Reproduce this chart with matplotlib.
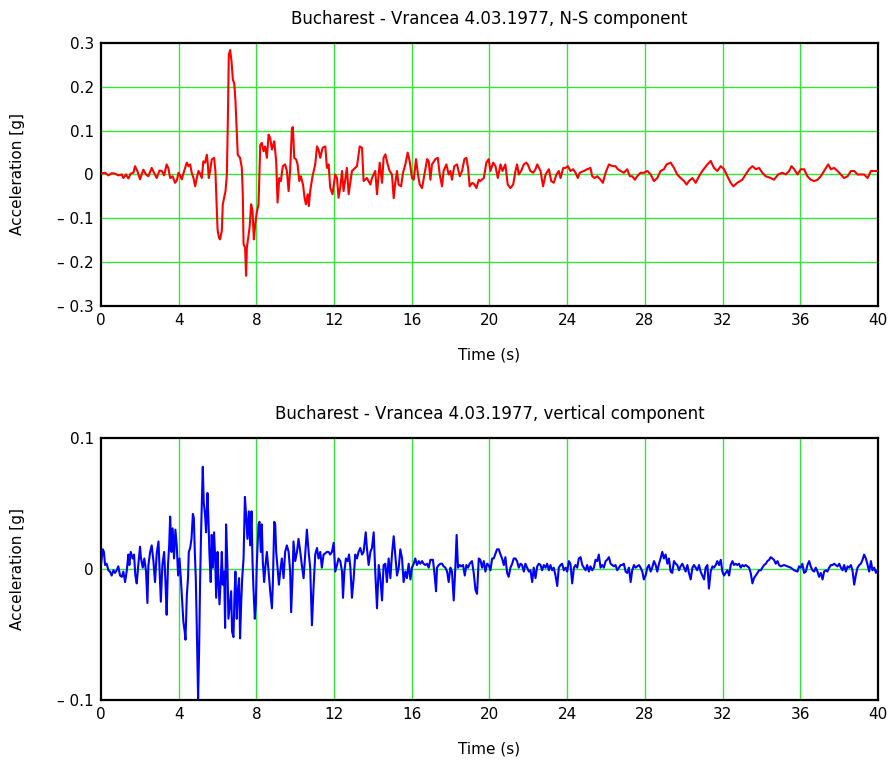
import matplotlib
matplotlib.use("Agg")
import matplotlib.pyplot as plt

ns_t = [0.00, 0.21, 0.38, 0.55, 0.72, 0.89, 1.07, 1.15, 1.29, 1.41, 1.53, 1.67, 1.75, 1.87, 2.01,
        2.18, 2.32, 2.44, 2.61, 2.73, 2.87, 3.01, 3.13, 3.25, 3.38, 3.47, 3.56, 3.69, 3.81, 3.90,
        3.99, 4.07, 4.16, 4.28, 4.42, 4.50, 4.59, 4.67, 4.76, 4.85, 4.93, 5.02, 5.10, 5.19, 5.27,
        5.36, 5.45, 5.50, 5.55, 5.62, 5.70, 5.82, 5.89, 5.93, 6.00, 6.07, 6.13, 6.22, 6.27, 6.34,
        6.41, 6.48, 6.53, 6.58, 6.65, 6.72, 6.79, 6.86, 6.92, 6.99, 7.04, 7.16, 7.25, 7.30, 7.34,
        7.42, 7.47, 7.51, 7.58, 7.65, 7.73, 7.80, 7.87, 7.94, 8.02, 8.11, 8.20, 8.28, 8.37, 8.45,
        8.54, 8.63, 8.71, 8.80, 8.92, 9.02, 9.09, 9.18, 9.26, 9.36, 9.48, 9.57, 9.66, 9.74, 9.83,
        9.88, 9.95, 10.05, 10.12, 10.21, 10.29, 10.40, 10.48, 10.55, 10.64, 10.70, 10.77, 10.89,
        11.03, 11.12, 11.20, 11.29, 11.41, 11.55, 11.63, 11.72, 11.80, 11.92, 12.06, 12.15, 12.23,
        12.32, 12.41, 12.49, 12.66, 12.75, 12.92, 13.09, 13.18, 13.32, 13.44, 13.52, 13.69, 13.87,
        13.95, 14.12, 14.21, 14.35, 14.47, 14.55, 14.64, 14.76, 14.86, 14.98, 15.07, 15.15, 15.24,
        15.32, 15.45, 15.55, 15.67, 15.79, 15.89, 16.01, 16.10, 16.22, 16.32, 16.41, 16.53, 16.65,
        16.79, 16.87, 16.96, 17.04, 17.22, 17.34, 17.44, 17.56, 17.64, 17.78, 17.90, 17.99, 18.07,
        18.19, 18.33, 18.47, 18.59, 18.71, 18.81, 18.90, 18.98, 19.11, 19.23, 19.33, 19.45, 19.53,
        19.71, 19.84, 19.96, 20.05, 20.19, 20.31, 20.43, 20.57, 20.67, 20.82, 20.94, 21.08, 21.22,
        21.34, 21.42, 21.51, 21.63, 21.77, 21.89, 21.97, 22.11, 22.25, 22.37, 22.46, 22.63, 22.76,
        22.89, 23.06, 23.18, 23.31, 23.45, 23.57, 23.66, 23.80, 23.92, 24.04, 24.17, 24.31, 24.43,
        24.55, 24.65, 24.86, 25.03, 25.20, 25.29, 25.41, 25.55, 25.72, 25.84, 25.98, 26.15, 26.32,
        26.49, 26.61, 26.75, 26.92, 27.09, 27.23, 27.35, 27.49, 27.61, 27.78, 27.95, 28.13, 28.30,
        28.47, 28.64, 28.81, 28.98, 29.12, 29.33, 29.50, 29.67, 29.84, 30.02, 30.15, 30.27, 30.45,
        30.62, 30.79, 30.96, 31.22, 31.39, 31.56, 31.73, 31.91, 32.08, 32.25, 32.42, 32.56, 32.76,
        33.02, 33.19, 33.37, 33.54, 33.71, 33.88, 34.05, 34.22, 34.48, 34.65, 34.86, 35.08, 35.26,
        35.43, 35.55, 35.69, 35.86, 36.03, 36.20, 36.37, 36.54, 36.72, 36.89, 37.06, 37.23, 37.44,
        37.58, 37.75, 37.92, 38.09, 38.26, 38.44, 38.61, 38.78, 38.95, 39.12, 39.29, 39.47, 39.64,
        39.81, 39.98]
ns_acc = [0.002, 0.004, -0.002, 0.003, 0.002, -0.002, 0.000, -0.008, 0.000, -0.009, 0.002, 0.004,
          0.019, 0.008, -0.011, 0.011, 0.000, -0.004, 0.015, 0.004, -0.008, 0.009, 0.008, -0.002,
          0.023, 0.014, -0.008, -0.004, -0.019, -0.014, 0.004, -0.002, -0.011, 0.008, 0.027, 0.019,
          0.023, 0.004, -0.008, -0.027, -0.008, 0.008, 0.002, -0.008, 0.030, 0.027, 0.045, 0.023,
          -0.008, 0.008, 0.034, 0.038, 0.008, -0.038, -0.125, -0.144, -0.148, -0.129, -0.068,
          -0.053, -0.038, 0.000, 0.121, 0.273, 0.284, 0.258, 0.216, 0.208, 0.170, 0.098, 0.045,
          0.038, 0.015, -0.045, -0.159, -0.167, -0.231, -0.167, -0.144, -0.121, -0.068, -0.083,
          -0.148, -0.114, -0.087, -0.068, 0.068, 0.072, 0.053, 0.064, 0.038, 0.091, 0.083, 0.057,
          0.076, 0.030, -0.064, -0.008, -0.015, 0.019, 0.023, 0.008, -0.038, 0.011, 0.106, 0.108,
          0.038, 0.034, 0.023, -0.015, -0.004, -0.023, -0.053, -0.068, -0.045, -0.072, -0.038,
          -0.004, 0.023, 0.064, 0.057, 0.038, 0.061, 0.064, 0.015, 0.023, -0.030, -0.045, 0.000,
          -0.008, -0.053, -0.030, 0.008, -0.038, 0.015, -0.045, 0.008, 0.015, 0.019, 0.064, 0.061,
          -0.015, -0.008, -0.023, -0.008, 0.008, -0.045, 0.027, -0.019, 0.038, 0.046, 0.023, 0.008,
          0.000, -0.054, -0.019, 0.008, -0.023, -0.027, 0.004, 0.023, 0.050, 0.031, -0.008, -0.012,
          0.035, 0.000, -0.023, -0.031, 0.000, 0.035, 0.031, -0.012, 0.023, 0.035, 0.038, 0.000,
          -0.027, 0.008, 0.023, 0.000, 0.008, -0.012, 0.019, 0.023, -0.004, 0.008, 0.035, 0.038,
          0.015, -0.027, -0.019, -0.023, -0.031, -0.012, -0.015, -0.008, 0.027, 0.035, 0.008, 0.027,
          0.019, -0.008, 0.023, 0.008, 0.023, -0.023, -0.031, -0.023, 0.008, 0.023, 0.000, 0.008,
          0.023, 0.027, 0.023, 0.008, 0.004, 0.012, 0.023, 0.008, -0.027, 0.000, 0.012, -0.015,
          -0.019, 0.000, 0.008, -0.008, 0.015, 0.015, 0.019, 0.008, 0.012, 0.004, -0.008, 0.004,
          0.008, 0.012, 0.015, -0.004, -0.008, -0.004, -0.012, -0.019, 0.004, 0.023, 0.019, 0.019,
          0.012, 0.008, 0.004, 0.012, -0.004, -0.004, -0.012, -0.004, 0.004, 0.004, 0.008, 0.000,
          -0.015, -0.008, 0.008, 0.012, 0.023, 0.027, 0.015, 0.000, -0.008, -0.015, -0.023, -0.015,
          -0.008, -0.019, -0.004, 0.008, 0.023, 0.031, 0.015, 0.008, 0.019, 0.012, -0.004, -0.019,
          -0.027, -0.019, -0.012, 0.000, 0.012, 0.019, 0.012, 0.015, 0.004, -0.004, -0.008, -0.012,
          0.000, 0.004, 0.000, 0.008, 0.019, 0.012, 0.000, 0.012, 0.012, -0.004, -0.012, -0.015,
          -0.012, -0.004, 0.008, 0.023, 0.012, 0.015, 0.008, 0.000, -0.008, -0.004, 0.008, 0.008,
          0.000, 0.000, 0.000, -0.008, 0.008, 0.008, 0.008]

# vertical component (time in s, acceleration in g)
v_t = [0.00, 0.09, 0.15, 0.21, 0.29, 0.38, 0.46, 0.55, 0.64, 0.72, 0.81, 0.89, 0.98, 1.07, 1.15,
       1.24, 1.32, 1.41, 1.46, 1.53, 1.63, 1.70, 1.77, 1.84, 1.92, 2.01, 2.06, 2.15, 2.23, 2.32,
       2.39, 2.44, 2.53, 2.61, 2.70, 2.78, 2.87, 2.96, 3.01, 3.08, 3.16, 3.25, 3.32, 3.38, 3.45,
       3.51, 3.56, 3.63, 3.69, 3.76, 3.83, 3.90, 3.97, 4.04, 4.11, 4.18, 4.24, 4.31, 4.35, 4.42,
       4.48, 4.52, 4.59, 4.66, 4.73, 4.78, 4.83, 4.88, 4.93, 4.97, 5.00, 5.05, 5.10, 5.15, 5.21,
       5.24, 5.29, 5.36, 5.41, 5.48, 5.53, 5.58, 5.65, 5.70, 5.76, 5.82, 5.88, 5.93, 6.00, 6.05,
       6.10, 6.17, 6.22, 6.27, 6.34, 6.39, 6.44, 6.51, 6.56, 6.65, 6.70, 6.75, 6.82, 6.87, 6.92,
       6.99, 7.04, 7.11, 7.16, 7.22, 7.27, 7.34, 7.41, 7.47, 7.54, 7.61, 7.68, 7.75, 7.80, 7.85,
       7.92, 7.97, 8.02, 8.11, 8.16, 8.23, 8.28, 8.33, 8.40, 8.47, 8.54, 8.63, 8.71, 8.80, 8.85,
       8.92, 8.97, 9.02, 9.09, 9.16, 9.23, 9.31, 9.40, 9.48, 9.57, 9.66, 9.74, 9.79, 9.86, 9.91,
       10.00, 10.09, 10.17, 10.26, 10.34, 10.43, 10.52, 10.60, 10.69, 10.77, 10.86, 10.95, 11.03,
       11.12, 11.20, 11.29, 11.37, 11.46, 11.55, 11.63, 11.72, 11.80, 11.89, 11.98, 12.06, 12.15,
       12.23, 12.32, 12.41, 12.46, 12.53, 12.61, 12.70, 12.77, 12.84, 12.92, 13.01, 13.09, 13.18,
       13.26, 13.35, 13.44, 13.52, 13.63, 13.69, 13.78, 13.87, 13.95, 14.04, 14.12, 14.21, 14.30,
       14.38, 14.47, 14.55, 14.64, 14.72, 14.81, 14.90, 14.98, 15.07, 15.15, 15.24, 15.33, 15.41,
       15.50, 15.58, 15.67, 15.75, 15.84, 15.93, 16.01, 16.10, 16.18, 16.27, 16.36, 16.44, 16.53,
       16.61, 16.70, 16.79, 16.87, 16.96, 17.09, 17.18, 17.25, 17.30, 17.39, 17.47, 17.56, 17.64,
       17.73, 17.82, 17.90, 17.99, 18.07, 18.16, 18.25, 18.31, 18.38, 18.47, 18.54, 18.64, 18.73,
       18.81, 18.90, 18.98, 19.10, 19.19, 19.28, 19.36, 19.45, 19.53, 19.62, 19.71, 19.79, 19.88,
       19.96, 20.05, 20.14, 20.22, 20.39, 20.48, 20.57, 20.65, 20.74, 20.82, 20.91, 20.99, 21.08,
       21.17, 21.25, 21.34, 21.42, 21.51, 21.60, 21.68, 21.77, 21.85, 21.94, 22.03, 22.11, 22.20,
       22.28, 22.37, 22.46, 22.54, 22.63, 22.71, 22.80, 22.89, 22.97, 23.06, 23.14, 23.23, 23.31,
       23.40, 23.49, 23.57, 23.66, 23.74, 23.83, 23.92, 24.00, 24.09, 24.17, 24.26, 24.35, 24.43,
       24.52, 24.60, 24.69, 24.78, 24.86, 24.95, 25.03, 25.12, 25.20, 25.29, 25.38, 25.46, 25.55,
       25.63, 25.72, 25.81, 25.89, 25.98, 26.06, 26.15, 26.24, 26.32, 26.41, 26.49, 26.58, 26.67,
       26.75, 26.84, 26.92, 27.01, 27.09, 27.18, 27.27, 27.35, 27.44, 27.52, 27.61, 27.70, 27.78,
       27.87, 27.95, 28.04, 28.13, 28.21, 28.30, 28.38, 28.47, 28.56, 28.64, 28.73, 28.81, 28.90,
       28.98, 29.07, 29.16, 29.24, 29.33, 29.41, 29.50, 29.59, 29.67, 29.76, 29.84, 29.93, 30.02,
       30.10, 30.19, 30.27, 30.36, 30.45, 30.53, 30.62, 30.70, 30.79, 30.87, 30.96, 31.05, 31.13,
       31.22, 31.30, 31.39, 31.48, 31.56, 31.65, 31.73, 31.82, 31.91, 31.99, 32.08, 32.16, 32.25,
       32.34, 32.42, 32.51, 32.59, 32.68, 32.76, 32.85, 32.94, 33.02, 33.11, 33.19, 33.28, 33.37,
       33.45, 33.54, 33.62, 33.71, 33.80, 33.88, 33.97, 34.05, 34.14, 34.23, 34.31, 34.40, 34.48,
       34.57, 34.65, 34.74, 34.83, 34.91, 35.00, 35.17, 35.34, 35.51, 35.69, 35.86, 35.94, 36.03,
       36.11, 36.20, 36.29, 36.37, 36.46, 36.54, 36.63, 36.72, 36.80, 36.89, 36.97, 37.06, 37.15,
       37.23, 37.32, 37.40, 37.49, 37.58, 37.66, 37.75, 37.83, 37.92, 38.01, 38.09, 38.18, 38.26,
       38.35, 38.44, 38.52, 38.61, 38.69, 38.78, 38.86, 38.95, 39.04, 39.12, 39.21, 39.29, 39.38,
       39.47, 39.55, 39.64, 39.72, 39.81, 39.90, 39.98]
v_acc = [0.003, 0.015, 0.013, 0.003, 0.004, -0.001, -0.002, -0.005, -0.001, -0.003, -0.001, 0.002,
         -0.005, -0.006, -0.002, -0.010, -0.002, 0.011, 0.003, 0.013, 0.008, 0.011, -0.005, -0.011,
         0.003, 0.017, 0.008, 0.001, 0.008, -0.002, -0.026, 0.003, 0.013, 0.018, 0.006, -0.010,
         0.012, 0.021, 0.001, -0.025, 0.003, 0.013, -0.010, -0.035, 0.003, 0.018, 0.040, 0.013,
         0.031, 0.008, 0.030, 0.018, -0.005, 0.008, -0.007, -0.025, -0.040, -0.048, -0.054, -0.020,
         -0.007, 0.013, 0.016, 0.023, 0.042, 0.039, 0.013, -0.007, -0.043, -0.076, -0.099, -0.063,
         -0.012, 0.026, 0.059, 0.078, 0.051, 0.041, 0.028, 0.058, 0.039, 0.013, -0.010, 0.026,
         0.001, 0.028, 0.008, -0.022, 0.013, -0.010, -0.027, -0.007, 0.013, -0.012, -0.002, -0.045,
         0.034, 0.003, -0.038, -0.025, -0.017, -0.048, -0.052, -0.022, -0.002, -0.038, -0.017,
         -0.007, -0.053, -0.025, -0.007, 0.008, 0.055, 0.041, 0.023, 0.044, 0.018, 0.044, 0.006,
         -0.015, -0.038, -0.027, 0.003, 0.034, 0.036, 0.013, 0.034, 0.006, -0.010, 0.003, 0.013,
         -0.002, -0.017, -0.030, -0.010, 0.036, 0.034, 0.013, 0.001, -0.012, -0.002, 0.008, -0.007,
         0.013, 0.018, 0.013, -0.002, -0.033, -0.007, 0.021, 0.006, 0.013, 0.023, 0.013, 0.003,
         -0.007, 0.013, 0.030, 0.013, 0.001, -0.043, -0.012, 0.011, 0.016, 0.008, 0.013, 0.001,
         0.011, 0.012, 0.013, 0.013, 0.011, 0.013, 0.020, -0.002, 0.003, 0.008, 0.006, -0.002,
         -0.022, -0.002, 0.008, 0.006, 0.011, 0.001, -0.022, -0.007, 0.011, 0.008, 0.013, 0.016,
         0.011, 0.013, 0.028, 0.016, 0.003, 0.013, 0.016, 0.028, -0.002, -0.030, 0.003, -0.007,
         -0.024, 0.003, 0.004, -0.010, 0.008, -0.007, 0.011, 0.025, 0.011, -0.005, 0.001, 0.015,
         0.008, -0.010, -0.002, -0.007, 0.004, -0.008, 0.001, 0.004, 0.008, 0.003, 0.006, 0.004,
         0.006, 0.004, 0.003, 0.004, 0.001, 0.007, 0.007, -0.005, -0.017, 0.001, 0.003, 0.004,
         0.004, 0.002, 0.001, -0.002, -0.010, 0.001, -0.002, -0.024, 0.003, 0.026, 0.001, 0.003,
         0.002, 0.003, -0.005, 0.003, 0.001, 0.004, 0.006, -0.003, -0.016, -0.019, 0.008, 0.007,
         0.001, 0.006, -0.002, 0.004, 0.003, -0.001, 0.008, 0.008, 0.015, 0.015, 0.011, 0.008,
         0.003, 0.009, -0.003, -0.006, 0.001, 0.004, 0.008, 0.008, 0.006, 0.001, 0.004, 0.003,
         -0.002, 0.004, 0.001, -0.002, -0.001, -0.010, 0.001, -0.007, 0.002, 0.004, 0.003, -0.001,
         0.003, 0.001, 0.004, -0.001, 0.003, -0.001, 0.001, -0.005, -0.013, 0.001, 0.003, 0.004,
         -0.001, 0.001, -0.002, 0.006, 0.004, -0.011, 0.001, 0.003, 0.001, 0.008, 0.009, 0.003,
         0.001, -0.001, 0.003, -0.002, 0.002, -0.001, 0.001, 0.007, 0.006, 0.011, 0.001, 0.003,
         0.001, 0.006, 0.007, 0.009, 0.004, 0.003, 0.002, 0.003, -0.001, 0.001, 0.003, 0.003,
         0.004, -0.002, -0.003, 0.001, -0.010, -0.001, 0.003, 0.001, 0.002, 0.003, 0.001, -0.002,
         -0.008, -0.005, 0.001, 0.003, -0.002, 0.001, 0.006, 0.003, -0.002, 0.004, 0.008, 0.013,
         0.008, 0.011, 0.004, 0.008, -0.002, -0.003, 0.006, 0.004, 0.003, -0.001, 0.002, 0.004,
         0.001, -0.002, 0.003, -0.003, -0.008, 0.001, 0.003, 0.001, -0.001, 0.003, -0.002, -0.005,
         -0.008, 0.001, 0.003, -0.015, -0.002, 0.002, 0.001, 0.003, 0.006, 0.003, 0.007, -0.002,
         -0.005, -0.003, -0.001, -0.005, 0.003, 0.006, 0.003, 0.004, 0.003, 0.004, 0.001, 0.003,
         0.002, 0.003, 0.002, 0.001, -0.003, -0.011, -0.007, -0.005, -0.003, -0.001, -0.001, 0.001,
         0.003, 0.004, 0.006, 0.007, 0.009, 0.008, 0.007, 0.004, 0.006, 0.003, 0.002, 0.003, 0.002,
         0.001, -0.001, -0.002, 0.002, 0.001, 0.004, -0.003, -0.002, 0.003, 0.006, 0.002, -0.001,
         -0.002, 0.001, -0.002, -0.006, -0.003, -0.008, -0.002, -0.001, -0.002, 0.001, 0.003, 0.003,
         0.004, 0.003, 0.002, 0.004, 0.001, -0.001, 0.003, -0.002, 0.002, 0.001, 0.003, -0.001,
         -0.012, -0.005, 0.001, 0.003, 0.004, 0.007, 0.011, 0.008, 0.003, -0.002, 0.006, -0.001,
         0.001, -0.003, -0.001]

x_ticks = list(range(0, 41, 4))
ns_yticks = [-0.3, -0.2, -0.1, 0, 0.1, 0.2, 0.3]
v_yticks = [-0.1, 0, 0.1]


def ylab(v):
    if v == 0:
        return "0"
    if v < 0:
        return "\u2013 %g" % abs(v)
    return "%g" % v


fig = plt.figure(figsize=(8.93, 7.65), dpi=100)
ax1 = fig.add_axes([0.1131, 0.600, 0.870, 0.3438])
ax2 = fig.add_axes([0.1131, 0.085, 0.870, 0.3425])

grid_col = "#33e633"
panels = [
    (ax1, ns_t, ns_acc, "red", ns_yticks, "Bucharest - Vrancea 4.03.1977, N-S component"),
    (ax2, v_t, v_acc, "blue", v_yticks, "Bucharest - Vrancea 4.03.1977, vertical component"),
]
for ax, t, a, col, yt, title in panels:
    ax.plot(t, a, color=col, lw=1.5, zorder=3)
    ax.set_xlim(0, 40)
    ax.set_ylim(yt[0], yt[-1])
    ax.set_xticks(x_ticks)
    ax.set_yticks(yt)
    ax.set_yticklabels([ylab(v) for v in yt])
    for x in x_ticks[1:-1]:
        ax.axvline(x, color=grid_col, lw=1, zorder=1)
    for y in yt[1:-1]:
        ax.axhline(y, color=grid_col, lw=1, zorder=1)
    ax.tick_params(length=0, labelsize=11, pad=5)
    for s in ax.spines.values():
        s.set_linewidth(1.6)
        s.set_color("black")
    ax.set_title(title, fontsize=12, pad=14)
    ax.set_xlabel("Time (s)", fontsize=11, labelpad=14)
    ax.set_ylabel("Acceleration [g]", fontsize=11)
    ax.yaxis.set_label_coords(-0.098, 0.5)

fig.savefig("out.png", dpi=100)
